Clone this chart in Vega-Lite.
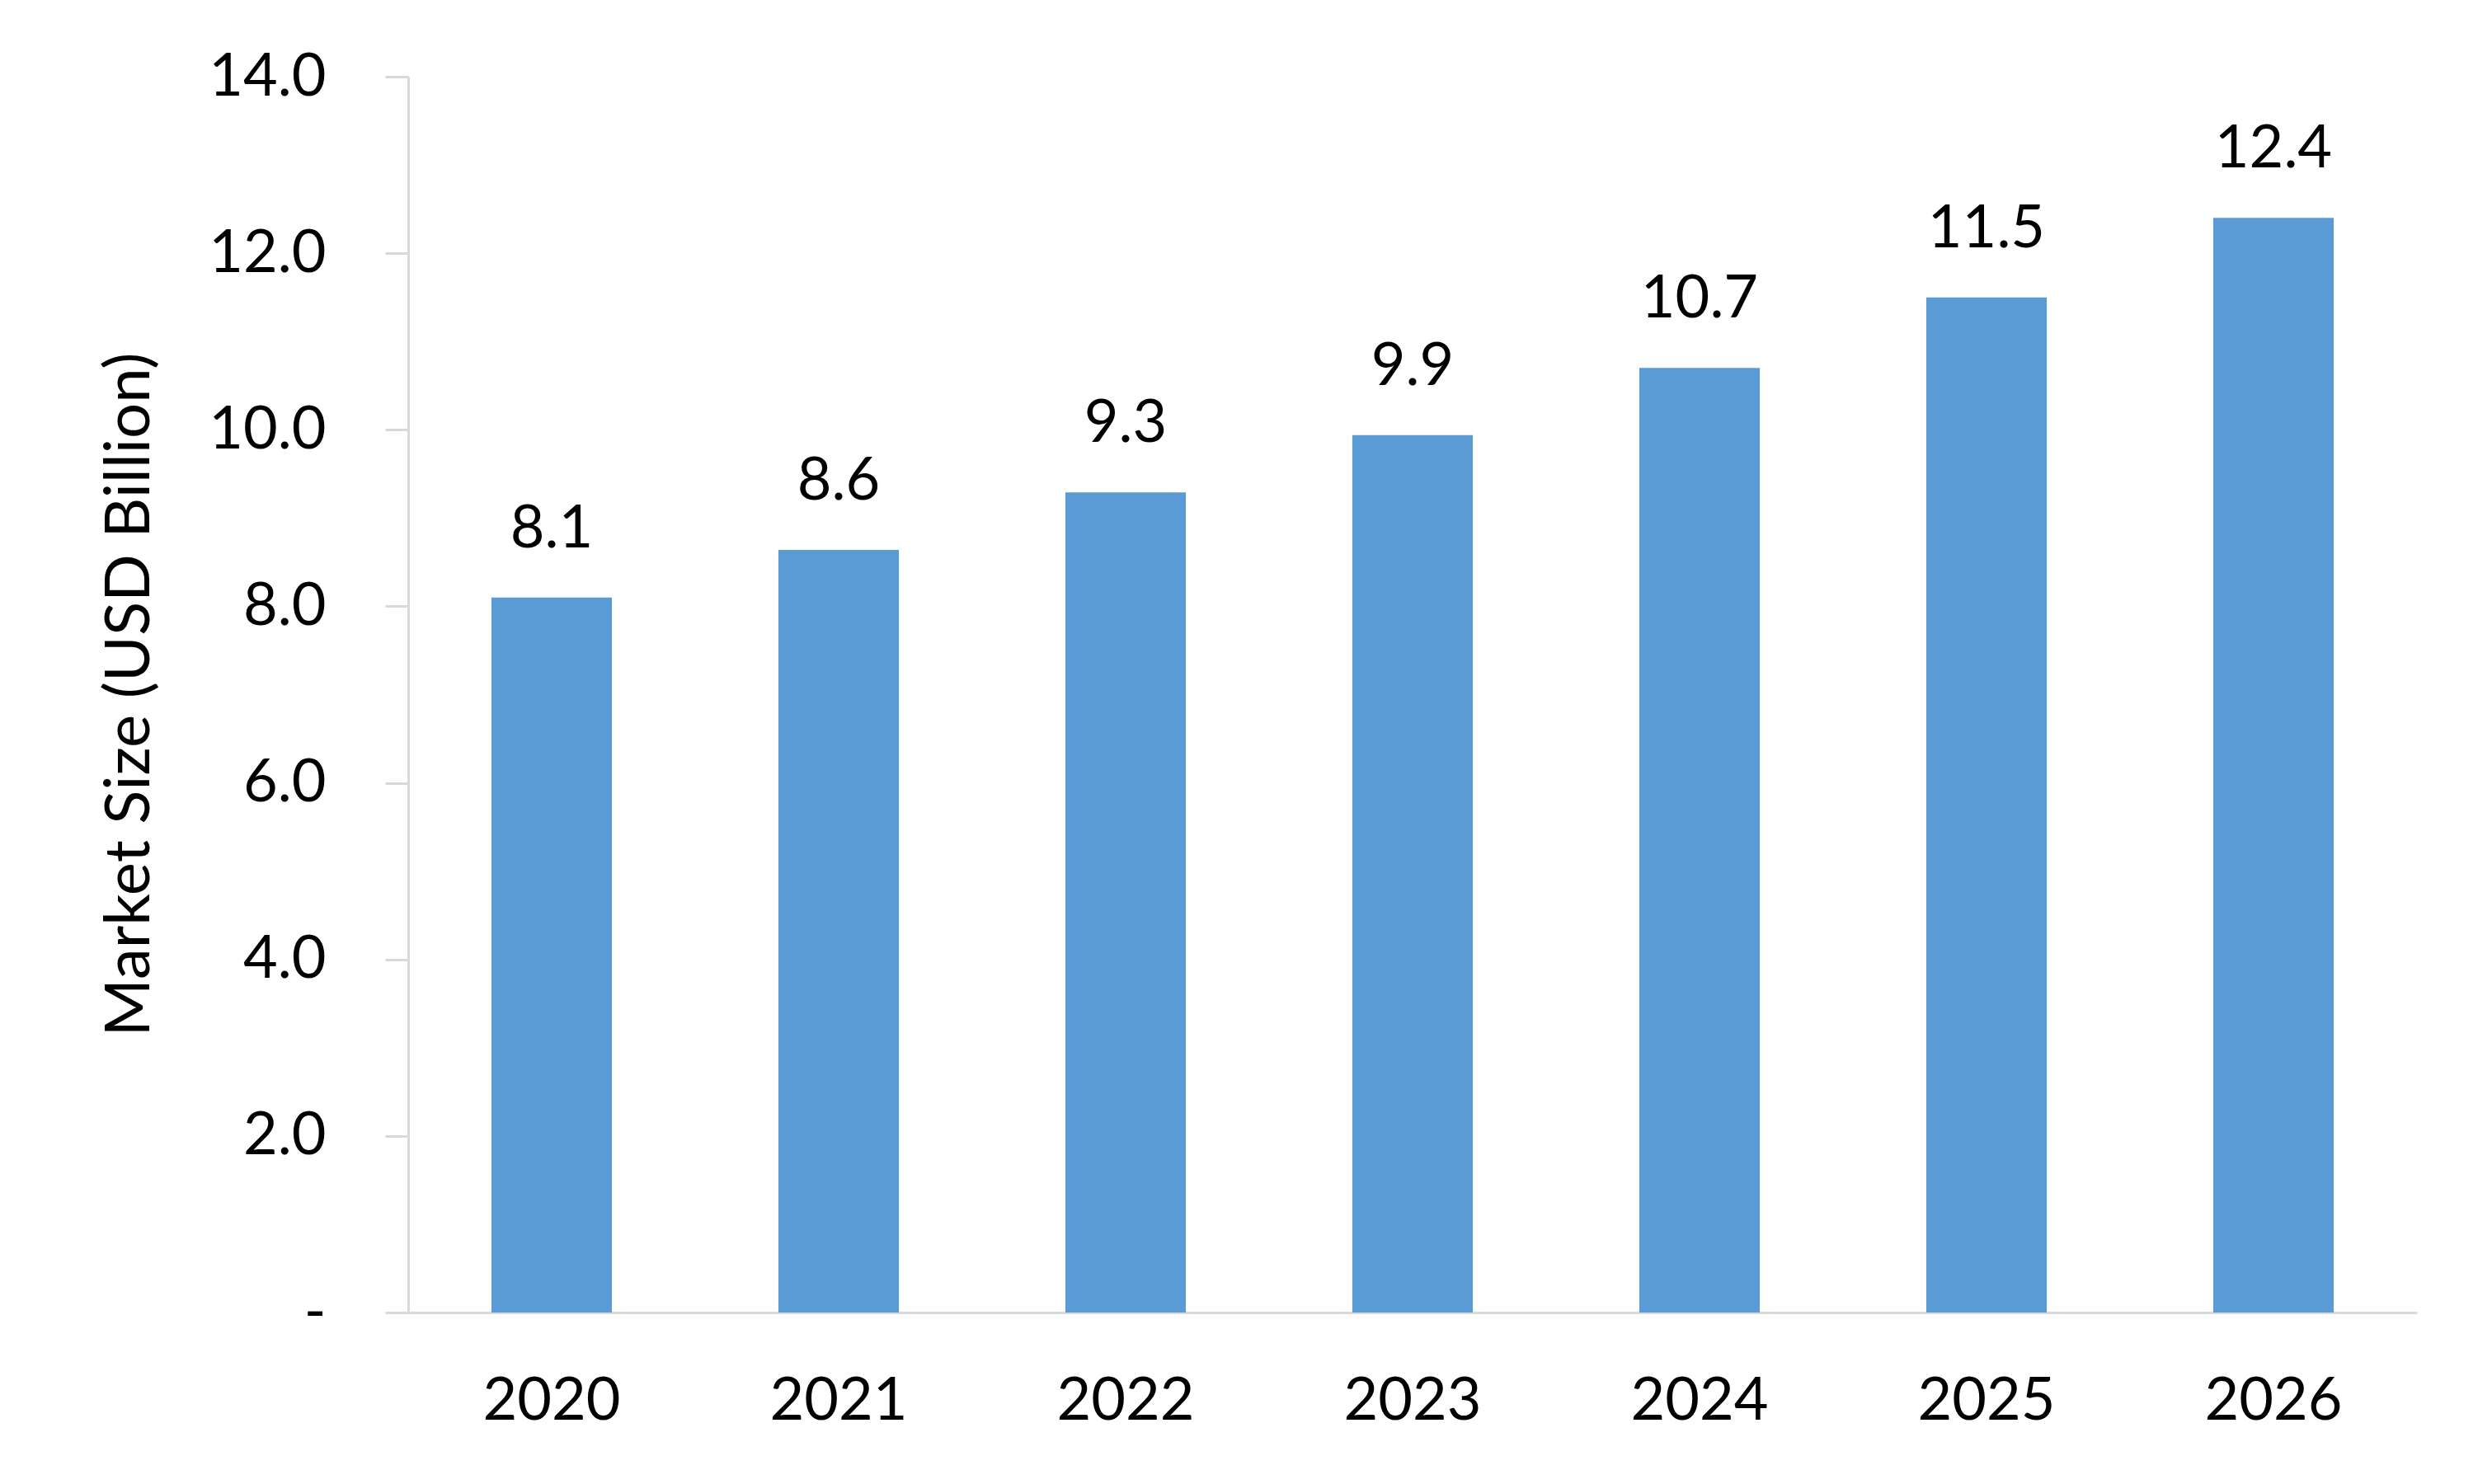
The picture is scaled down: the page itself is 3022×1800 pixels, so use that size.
{
  "$schema": "https://vega.github.io/schema/vega-lite/v6.json",
  "width": 2436,
  "height": 1499,
  "autosize": {"type": "none"},
  "padding": {"left": 495, "top": 93, "right": 91, "bottom": 208},
  "background": "white",
  "config": {
    "view": {"stroke": null},
    "font": "Lato",
    "axis": {"labelFont": "Lato", "titleFont": "Lato", "labelColor": "#000000", "titleColor": "#000000", "grid": false}
  },
  "data": {
    "values": [
      {"year": "2020", "value": 8.1},
      {"year": "2021", "value": 8.64},
      {"year": "2022", "value": 9.29},
      {"year": "2023", "value": 9.94},
      {"year": "2024", "value": 10.7},
      {"year": "2025", "value": 11.5},
      {"year": "2026", "value": 12.4}
    ]
  },
  "encoding": {
    "x": {
      "field": "year",
      "type": "ordinal",
      "scale": {"paddingInner": 0.58, "paddingOuter": 0.29},
      "axis": {
        "title": null,
        "labelAngle": 0,
        "labelFontSize": 72,
        "labelPadding": 72,
        "ticks": false,
        "domainColor": "#D9D9D9",
        "domainWidth": 3
      }
    },
    "y": {
      "field": "value",
      "type": "quantitative",
      "scale": {"domain": [0, 14], "nice": false},
      "axis": {
        "title": "Market Size (USD Billion)",
        "titleFontSize": 76,
        "titleFontWeight": "normal",
        "titleX": -338,
        "titleY": 749,
        "titleAngle": -90,
        "titleAlign": "center",
        "titleBaseline": "middle",
        "values": [0, 2, 4, 6, 8, 10, 12, 14],
        "labelExpr": "datum.value == 0 ? '-\u00a0\u00a0' : format(datum.value, '.1f')",
        "labelFontSize": 72,
        "labelPadding": 72,
        "tickSize": 28,
        "tickColor": "#D9D9D9",
        "tickWidth": 3,
        "domainColor": "#D9D9D9",
        "domainWidth": 3
      }
    }
  },
  "layer": [
    {"mark": {"type": "bar", "color": "#5B9BD5"}},
    {
      "mark": {"type": "text", "fontSize": 72, "font": "Lato", "color": "#000000", "baseline": "alphabetic", "dy": -61},
      "encoding": {"text": {"field": "value", "type": "quantitative", "format": ".1f"}}
    }
  ]
}
